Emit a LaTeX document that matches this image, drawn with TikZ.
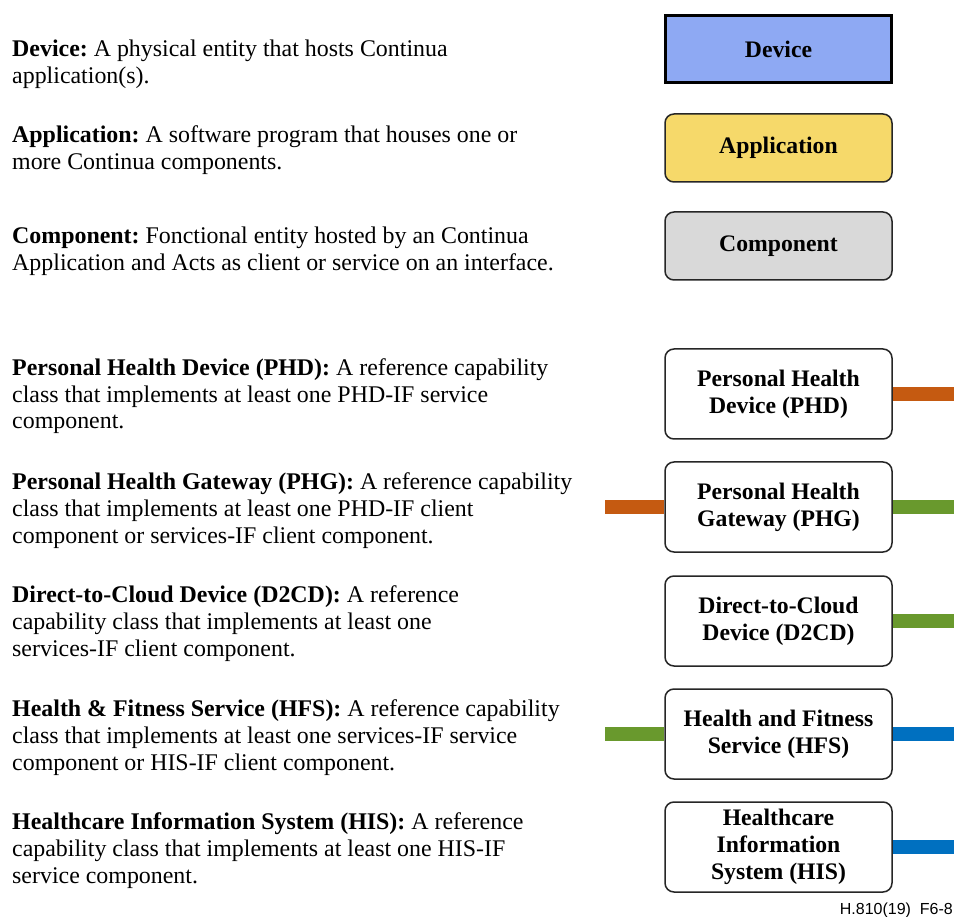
\documentclass[tikz,border=0pt]{standalone}
\usepackage{fontspec}
\setmainfont{Liberation Serif}
\newfontfamily\footfont{Liberation Sans}
\frenchspacing
\definecolor{devblue}{RGB}{142,169,243}
\definecolor{appyellow}{RGB}{246,217,106}
\definecolor{compgray}{RGB}{217,217,217}
\definecolor{ifOrange}{RGB}{197,90,17}
\definecolor{ifGreen}{RGB}{105,153,45}
\definecolor{ifBlue}{RGB}{0,112,192}
\begin{document}
\begin{tikzpicture}[x=1pt,y=-1pt,
  desc/.style={anchor=base west,inner sep=0pt,align=left,font=\fontsize{23.9}{27}\selectfont\frenchspacing},
  box/.style={draw=black!85,line width=1.5pt,rounded corners=9pt,minimum width=227pt,align=center,
     font=\fontsize{23.7}{27}\selectfont\bfseries,inner sep=0pt,fill=white},
  stub/.style={line width=14pt}
]
\useasboundingbox (0,0) rectangle (954,917);
\fill[white] (0,0) rectangle (954,917);

% descriptions (anchor = baseline of the last line)
\node[desc] (tdev) at (12,84) {\textbf{Device:} A physical entity that hosts Continua\\application(s).};
\node[desc] (tapp) at (12,170) {\textbf{Application:} A software program that houses one or\\more Continua components.};
\node[desc] (tcomp) at (12,271) {\textbf{Component:} Fonctional entity hosted by an Continua\\Application and Acts as client or service on an interface.};
\node[desc] (tphd) at (12,429) {\textbf{Personal Health Device (PHD):} A reference capability\\class that implements at least one PHD-IF service\\component.};
\node[desc] (tphg) at (12,543) {\textbf{Personal Health Gateway (PHG):} A reference capability\\class that implements at least one PHD-IF client\\component or services-IF client component.};
\node[desc] (td2cd) at (12,656) {\textbf{Direct-to-Cloud Device (D2CD):} A reference\\capability class that implements at least one\\services-IF client component.};
\node[desc] (thfs) at (12,770) {\textbf{Health \& Fitness Service (HFS):} A reference capability\\class that implements at least one services-IF service\\component or HIS-IF client component.};
\node[desc] (this) at (12,883) {\textbf{Healthcare Information System (HIS):} A reference\\capability class that implements at least one HIS-IF\\service component.};

% legend boxes
\node[box,rounded corners=0pt,line width=3pt,draw=black,fill=devblue,minimum width=226pt,minimum height=67pt] (dev) at (778.5,49) {Device};
\node[box,fill=appyellow,minimum height=68pt] (app) at (778.5,148) {Application};
\node[box,fill=compgray,minimum height=68pt] (comp) at (778.5,246) {Component};

% free ends of the interface stubs
\coordinate (phdR) at (954,394);
\coordinate (phgL) at (605,507);
\coordinate (phgR) at (954,507);
\coordinate (d2cdR) at (954,621);
\coordinate (hfsL) at (605,734);
\coordinate (hfsR) at (954,734);
\coordinate (hisR) at (954,847);

\node[box,minimum height=90pt] (phd) at (778.5,394) {Personal Health\\Device (PHD)};
\node[box,minimum height=90pt] (phg) at (778.5,507) {Personal Health\\Gateway (PHG)};
\node[box,minimum height=90pt] (d2cd) at (778.5,621) {Direct-to-Cloud\\Device (D2CD)};
\node[box,minimum height=90pt] (hfs) at (778.5,734) {Health and Fitness\\Service (HFS)};
\node[box,minimum height=90pt] (his) at (778.5,847) {Healthcare\\Information\\System (HIS)};

\draw[stub,ifOrange] (phd.east) -- (phdR);
\draw[stub,ifOrange] (phgL) -- (phg.west);
\draw[stub,ifGreen] (phg.east) -- (phgR);
\draw[stub,ifGreen] (d2cd.east) -- (d2cdR);
\draw[stub,ifGreen] (hfsL) -- (hfs.west);
\draw[stub,ifBlue] (hfs.east) -- (hfsR);
\draw[stub,ifBlue] (his.east) -- (hisR);

\node[anchor=base east,inner sep=0pt,font=\footfont\fontsize{16}{18}\selectfont] (foot) at (953,914) {H.810(19)\ \ F6-8};
\end{tikzpicture}
\end{document}
